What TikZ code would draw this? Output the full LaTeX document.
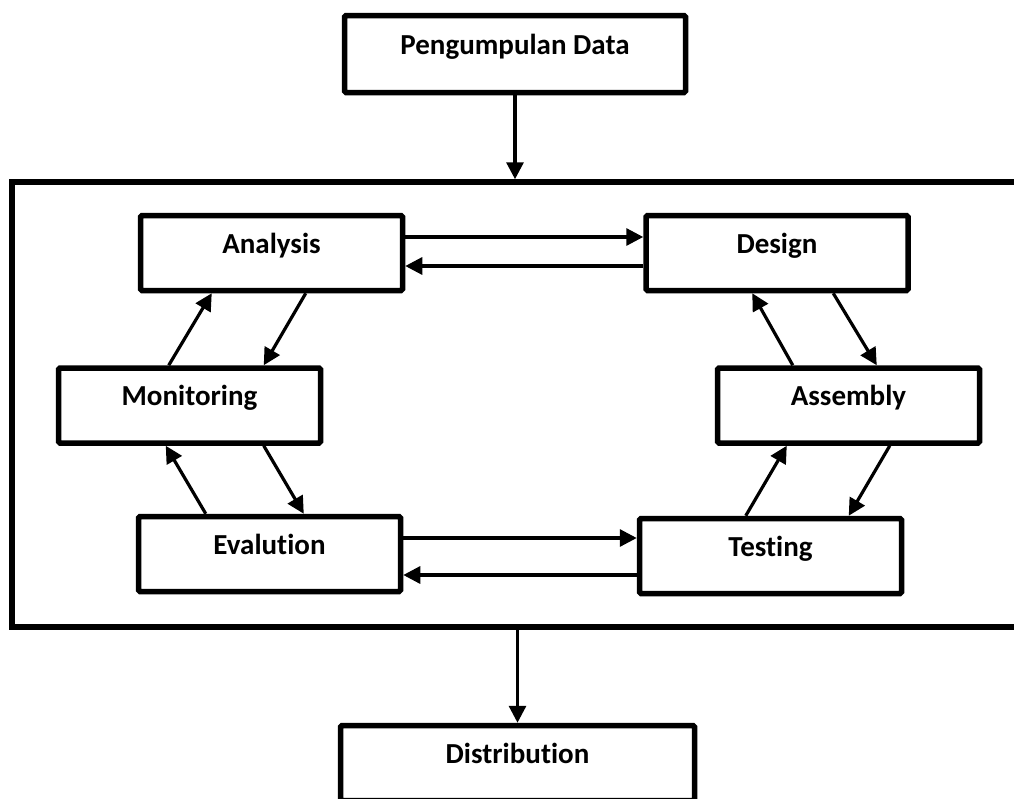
\documentclass[tikz,border=0pt]{standalone}
\usepackage{fontspec}
\setmainfont{Carlito}[Ligatures=NoCommon]
\usetikzlibrary{arrows.meta, positioning}

\begin{document}
\begin{tikzpicture}[
        x=1pt, y=-1pt,
        font=\fontsize{29}{34}\selectfont\bfseries,
        box/.style={rectangle, draw=black, line width=5.5pt, rounded corners=1.5pt, minimum width=262pt, minimum height=75pt, text height=20pt, text depth=20pt, inner sep=0pt},
        frame/.style={rectangle, draw=black, line width=5.5pt, minimum width=1028pt, minimum height=445pt, inner sep=0pt},
        arrow/.style={-{Triangle[length=17pt, width=17pt]}, line width=3.2pt}
    ]
    \clip (0,0) rectangle (1014,798);

    \node[box, minimum width=341pt, minimum height=77pt] (data) at (515,54) {Pengumpulan Data};
    \node[frame] (cycle) at (526,404.5) {};

    \node[box] (analysis) at (271.5,253) {Analysis};
    \node[box] (design) [right=238pt of analysis] {Design};
    \node[box] (monitoring) [below=72pt of analysis, xshift=-82pt] {Monitoring};
    \node[box] (assembly) [below=72pt of design, xshift=71.5pt] {Assembly};
    \node[box] (evalution) [below=68pt of monitoring, xshift=80pt] {Evalution};
    \node[box] (testing) [below=70pt of assembly, xshift=-78pt] {Testing};

    \node[box, minimum width=354pt] (distribution) at (517.5,763) {Distribution};

    % in and out of the cycle
    \draw[arrow] (data.south) -- (data.south |- cycle.north);
    \draw[arrow] (distribution.north |- cycle.south) -- (distribution.north);

    % top and bottom pairs
    \draw[arrow] ([yshift=16pt]analysis.east) -- ([yshift=16pt]design.west);
    \draw[arrow] ([yshift=-13pt]design.west) -- ([yshift=-13pt]analysis.east);
    \draw[arrow] ([yshift=16pt]evalution.east) -- ([yshift=18pt]testing.west);
    \draw[arrow] ([yshift=-19pt]testing.west) -- ([yshift=-21pt]evalution.east);

    % left side
    \draw[arrow] ([xshift=113pt]monitoring.north west) -- ([xshift=74pt]analysis.south west);
    \draw[arrow] ([xshift=168pt]analysis.south west) -- ([xshift=208pt]monitoring.north west);
    \draw[arrow] ([xshift=70pt]evalution.north west) -- ([xshift=110pt]monitoring.south west);
    \draw[arrow] ([xshift=208pt]monitoring.south west) -- ([xshift=168pt]evalution.north west);

    % right side
    \draw[arrow] ([xshift=78pt]assembly.north west) -- ([xshift=109pt]design.south west);
    \draw[arrow] ([xshift=190pt]design.south west) -- ([xshift=162pt]assembly.north west);
    \draw[arrow] ([xshift=109pt]testing.north west) -- ([xshift=72pt]assembly.south west);
    \draw[arrow] ([xshift=175pt]assembly.south west) -- ([xshift=212pt]testing.north west);
\end{tikzpicture}
\end{document}
